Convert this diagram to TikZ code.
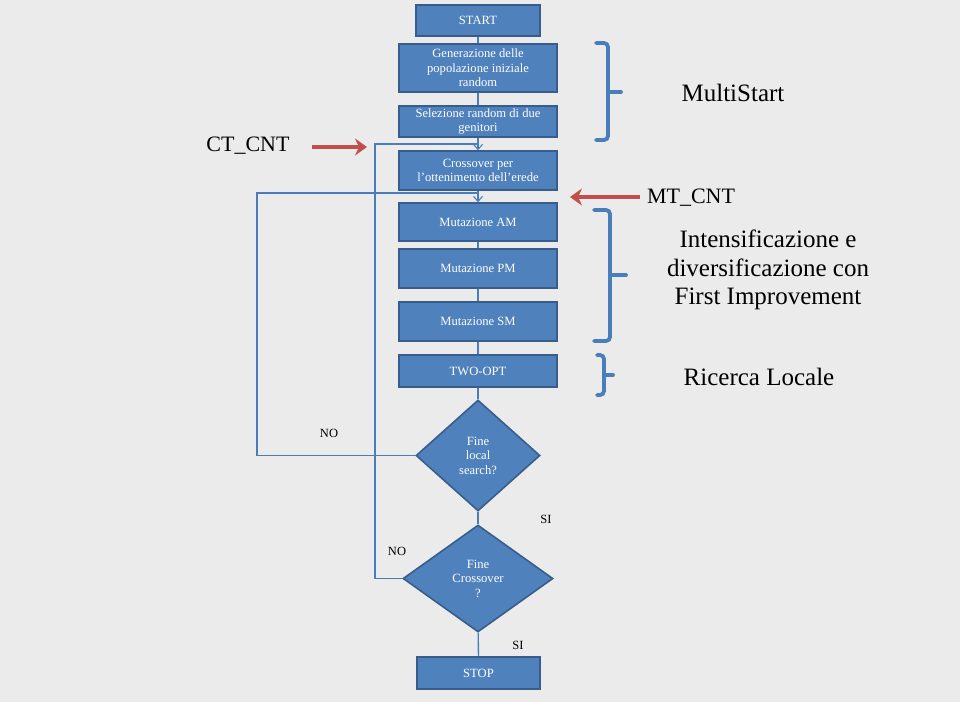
\documentclass[tikz,border=0pt]{standalone}
\usepackage{fontspec}
\setmainfont{Liberation Serif}
\usetikzlibrary{shapes.geometric,arrows.meta}
\definecolor{bgcol}{HTML}{EBEBEB}
\definecolor{boxfill}{HTML}{4F81BD}
\definecolor{boxline}{HTML}{385D8A}
\definecolor{conncol}{HTML}{4A7EBB}
\definecolor{redcol}{HTML}{C0504D}
\tikzset{
  flowbox/.style={draw=boxline, line width=1.6pt, fill=boxfill, text=white,
    minimum width=158pt, align=center, inner sep=0pt, font=\fontsize{12.6}{14.5}\selectfont},
  decision/.style={diamond, draw=boxline, line width=1.6pt, fill=boxfill, text=white,
    align=center, inner sep=0pt, font=\fontsize{12.6}{14.5}\selectfont},
  conn/.style={draw=conncol, line width=1.3pt},
  connarr/.style={conn, -{Straight Barb[length=5pt,width=9pt,line width=1.1pt]}},
  redarr/.style={draw=redcol, line width=4.5pt, -{Stealth[length=12pt,width=17pt,inset=4pt]}},
  bracestyle/.style={draw=conncol, line width=3.8pt, rounded corners=4pt, line cap=round},
  bigtext/.style={font=\fontsize{22}{28}\selectfont, align=center, inner sep=0pt},
  sidetext/.style={font=\fontsize{25}{28.5}\selectfont, align=center, inner sep=0pt},
  lbl/.style={font=\fontsize{12.5}{14}\selectfont, inner sep=0pt}
}
\begin{document}
\begin{tikzpicture}[x=1pt,y=-1pt]
\fill[bgcol] (0,0) rectangle (960,702);
\useasboundingbox (0,0) rectangle (960,702);

% boxes
\node[flowbox, minimum width=124pt, minimum height=31pt] (start) at (478,20.5) {START};
\node[flowbox, minimum height=48pt] (gen) at (478,68) {Generazione delle\\popolazione iniziale\\random};
\node[flowbox, minimum height=31pt] (sel) at (478,121.5) {Selezione random di due\\genitori};
\node[flowbox, minimum height=39pt] (cross) at (478,170.5) {Crossover per\\l'ottenimento dell'erede};
\node[flowbox, minimum height=38pt] (am) at (478,222) {Mutazione AM};
\node[flowbox, minimum height=39pt] (pm) at (478,268.5) {Mutazione PM};
\node[flowbox, minimum height=39pt] (sm) at (478,321.5) {Mutazione SM};
\node[flowbox, minimum height=32pt] (two) at (478,371) {TWO-OPT};
\node[decision, minimum width=124pt, minimum height=111pt] (d1) at (478,455.5) {Fine\\local\\search?};
\node[decision, minimum width=150pt, minimum height=107pt] (d2) at (478,578.5) {Fine\\Crossover\\?};
\node[flowbox, minimum width=123pt, minimum height=32pt] (stop) at (478.5,673) {STOP};

% junction coordinates
\coordinate (j1) at (478,144);
\coordinate (l1) at (375,144);
\coordinate (j2) at (478,193);
\coordinate (l2) at (257,193);

% connectors
\draw[conn] (start) -- (gen);
\draw[conn] (gen) -- (sel);
\draw[connarr] (sel) -- (cross);
\draw[connarr] (cross) -- (am);
\draw[conn] (am) -- (pm);
\draw[conn] (pm) -- (sm);
\draw[conn] (sm) -- (two);
\draw[conn] (two) -- (d1);
\draw[conn] (d1) -- (d2);
\draw[conn] (d2) -- (stop);
\draw[conn] (d2.west) -| (l1) -- (j1);
\draw[conn] (d1.west) -| (l2) -- (j2);

% labels
\node[lbl] (no1) at (329,433) {NO};
\node[lbl] (no2) at (397,551) {NO};
\node[lbl] (si1) at (546,519) {SI};
\node[lbl] (si2) at (518,645) {SI};

% left and right annotations
\node[bigtext] (ctcnt) at (248,146) {CT\_CNT};
\coordinate (r1a) at (312,147);
\coordinate (r1b) at (367,147);
\draw[redarr] (r1a) -- (r1b);

\node[bigtext] (mtcnt) at (691,198) {MT\_CNT};
\coordinate (r2a) at (640,197);
\coordinate (r2b) at (570,197);
\draw[redarr] (r2a) -- (r2b);

\node[sidetext] (multi) at (733,93) {MultiStart};
\node[sidetext] (intens) at (768,270) {Intensificazione e\\diversificazione con\\First Improvement};
\node[sidetext] (ricerca) at (759,377) {Ricerca Locale};

% braces
\draw[bracestyle] (596,43) -- (608,43) -- (608,140) -- (596,140);
\draw[bracestyle] (608,92) -- (621,92);
\draw[bracestyle] (594,210) -- (610,210) -- (610,341) -- (594,341);
\draw[bracestyle] (610,275) -- (626,275);
\draw[bracestyle] (597,355) -- (604,355) -- (604,395) -- (597,395);
\draw[bracestyle] (604,375) -- (613,375);
\end{tikzpicture}
\end{document}
